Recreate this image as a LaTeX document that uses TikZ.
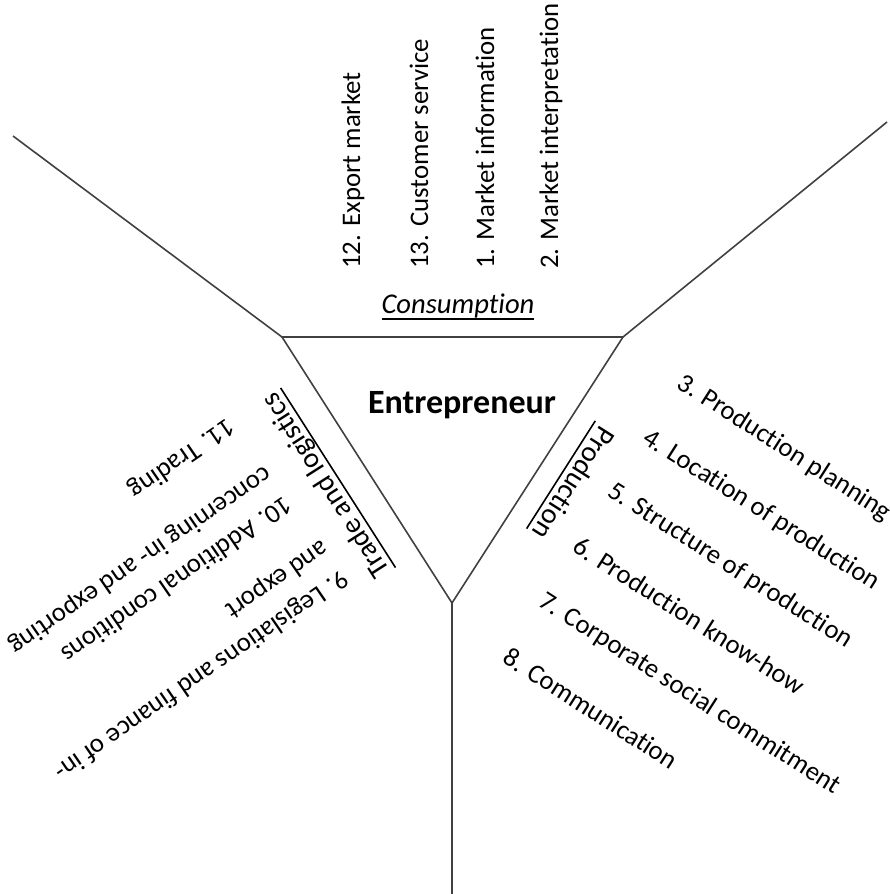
\documentclass[tikz,border=0pt]{standalone}
\usepackage{fontspec}
\setmainfont{Carlito}[Ligatures=NoCommon]
\usetikzlibrary{arrows}

\definecolor{colorline}{rgb}{0.25, 0.25, 0.25}
\newcommand{\sectlabel}[1]{\setbox0=\hbox{#1}\rlap{\vrule height -2.6pt depth 3.4pt width \wd0}\box0}
\tikzstyle{every node}=[inner sep=0pt]
\tikzstyle{border}=[draw=colorline, line width=0.8pt]
\tikzstyle{item}=[font=\fontsize{13.4}{18}\selectfont, align=left]
\tikzstyle{sector}=[font=\fontsize{14.3}{17}\selectfont, anchor=base]
\tikzstyle{actor}=[font=\bfseries\fontsize{17}{20}\selectfont]

\begin{document}
\begin{tikzpicture}[x=0.5pt, y=-0.5pt]
		\useasboundingbox (0,0) rectangle (889,894);
		
		% triangle corners and spoke ends
		\coordinate (tl) at (282,337);
		\coordinate (tr) at (623,337);
		\coordinate (bt) at (452,603);
		\coordinate (ul) at (13,136);
		\coordinate (ur) at (887,122);
		\coordinate (bd) at (452,894);
		
		\draw[border] (tl) -- (tr) -- (bt) -- cycle;
		\draw[border] (tl) -- (ul);
		\draw[border] (tr) -- (ur);
		\draw[border] (bt) -- (bd);
		
		\node[actor] (ent) at (462,405) {Entrepreneur};
		
		% consumption
		\node[sector] (cons) at (458,313) {\sectlabel{\textit{Consumption}}};
		\node[item, rotate=90, anchor=west] (c12) at (353,269) {12. Export market};
		\node[item, rotate=90, anchor=west] (c13) at (419,269) {13. Customer service};
		\node[item, rotate=90, anchor=west] (c1) at (485,269) {1. Market information};
		\node[item, rotate=90, anchor=west] (c2) at (551,269) {2. Market interpretation};
		
		% production
		\node[sector, rotate=237.5] (prod) at (566,478) {\sectlabel{Production}};
		\node[item, rotate=-32.6, anchor=west] (p3) at (679,381) {3. Production planning};
		\node[item, rotate=-32.6, anchor=west] (p4) at (645,436) {4. Location of production};
		\node[item, rotate=-32.6, anchor=west] (p5) at (610,489) {5. Structure of production};
		\node[item, rotate=-32.6, anchor=west] (p6) at (576,543) {6. Production know-how};
		\node[item, rotate=-32.6, anchor=west] (p7) at (541,599) {7. Corporate social commitment};
		\node[item, rotate=-32.6, anchor=west] (p8) at (506,654) {8. Communication};
		
		% trade and logistics
		\node[sector, rotate=122.6] (trade) at (333,481) {\sectlabel{Trade and logistics}};
		\node[item, rotate=214.5, anchor=north west] (t11) at (239,433) {11. Trading};
		\node[item, rotate=214.5, anchor=north west] (t10) at (296,511) {10. Additional conditions\\concerning in- and exporting};
		\node[item, rotate=214.5, anchor=north west] (t9) at (353,585) {9. Legislations and finance of in-\\and export};
		
\end{tikzpicture}
\end{document}
